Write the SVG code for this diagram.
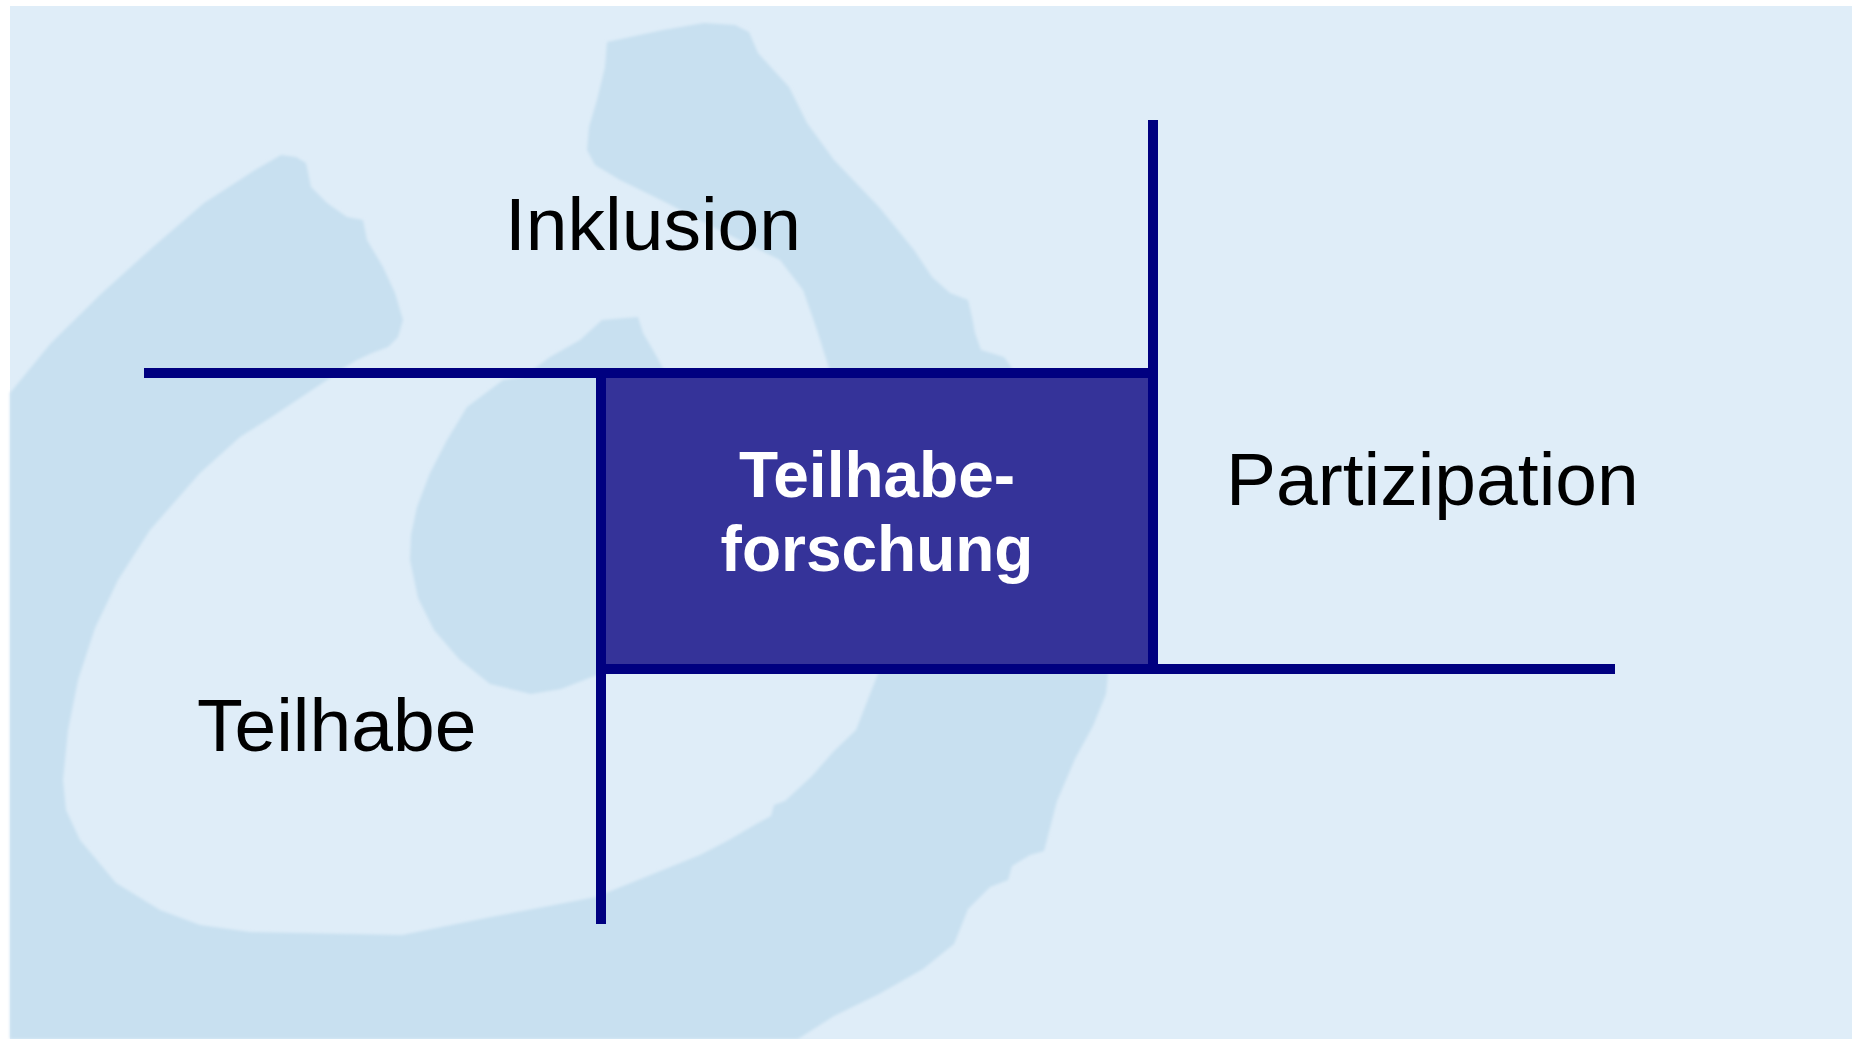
<svg xmlns="http://www.w3.org/2000/svg" width="1852" height="1039" viewBox="0 0 1852 1039">
  <defs>
    <filter id="soft" x="-5%" y="-5%" width="110%" height="110%">
      <feGaussianBlur stdDeviation="1.5"/>
    </filter>
  </defs>
  <style>
    .bg { fill: #dfedf8; }
    .blob { fill: #c8e0f0; }
    .conn { stroke: #000080; stroke-width: 10; stroke-linecap: butt; fill: none; }
    .label { font-family: "Liberation Sans", Arial, Helvetica, sans-serif; font-size: 75px; fill: #000000; }
    .core { font-family: "Liberation Sans", Arial, Helvetica, sans-serif; font-size: 64px; font-weight: bold; fill: #ffffff; text-anchor: middle; }
    .corebox { fill: #353399; }
  </style>

  <rect x="0" y="0" width="1852" height="1039" fill="#ffffff"/>
  <rect class="bg" x="10" y="6" width="1842" height="1033"/>

  <g id="background" filter="url(#soft)">
    <path class="blob" d="M10,393 L51,343 L102,293 L153,247 L204,203 L235,183 L255,170 L281,155 L296,157 L306,163 L311,187 L327,203 L347,217 L363,220 L367,240 L383,267 L395,293 L403,320 L398,337 L388,347 L372,353 L357,360 L340,370 L330,378 L297,400 L270,418 L240,437 L200,473 L150,530 L118,580 L95,628 L78,680 L68,730 L63,780 L66,810 L80,840 L116,883 L160,910 L200,925 L250,932 L402,935 L491,917 L596,897 L700,855 L727,841 L758,823 L771,816 L774,805 L785,801 L812,776 L834,751 L856,730 L870,694 L878,674 L860,520 L829,368 L816,327 L803,290 L780,260 L713,227 L667,203 L620,180 L595,165 L587,150 L589,127 L597,100 L605,67 L607,42 L663,30 L704,23 L735,25 L749,32 L758,53 L789,87 L807,123 L834,160 L879,207 L914,250 L932,277 L950,293 L968,300 L972,317 L975,333 L981,350 L1004,357 L1012,368 L1060,520 L1108,674 L1106,694 L1093,726 L1075,759 L1057,801 L1044,851 L1030,855 L1012,866 L1008,880 L990,887 L968,909 L954,944 L923,969 L879,994 L834,1016 L798,1039 L10,1039 Z"/>
    <path class="blob" d="M602,320 L638,317 L643,333 L653,350 L663,368 L700,420 L720,520 L700,610 L640,668 L597,675 L561,689 L531,694 L490,684 L459,659 L434,630 L418,598 L410,560 L411,535 L417,507 L430,473 L447,440 L467,407 L503,380 L523,377 L550,357 L580,340 Z"/>
  </g>

  <g id="node-teilhabeforschung">
    <rect class="corebox" x="601" y="373" width="552" height="296"/>
    <text class="core" x="877" y="497">Teilhabe-</text>
    <text class="core" x="877" y="571">forschung</text>
  </g>

  <g id="connectors">
    <line class="conn" x1="144" y1="373" x2="1158" y2="373"/>
    <line class="conn" x1="1153" y1="120" x2="1153" y2="674"/>
    <line class="conn" x1="596" y1="669" x2="1615" y2="669"/>
    <line class="conn" x1="601" y1="368" x2="601" y2="924"/>
  </g>

  <g id="node-inklusion">
    <text class="label" x="505" y="250">Inklusion</text>
  </g>
  <g id="node-partizipation">
    <text class="label" x="1226" y="505">Partizipation</text>
  </g>
  <g id="node-teilhabe">
    <text class="label" x="197" y="751">Teilhabe</text>
  </g>
</svg>
